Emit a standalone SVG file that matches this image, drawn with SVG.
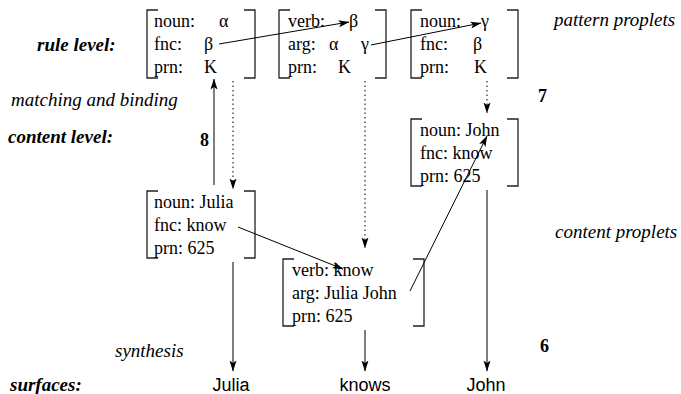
<svg xmlns="http://www.w3.org/2000/svg" width="681" height="394" viewBox="0 0 681 394">
<defs>
<marker id="ah" markerWidth="11" markerHeight="8" refX="10.5" refY="4" orient="auto" markerUnits="userSpaceOnUse">
<path d="M0,0.5 L11,4 L0,7.5 L2.5,4 Z" fill="#000"/>
</marker>
<style>
.br{fill:none;stroke:#222;stroke-width:1.3}
.t{font-family:"Liberation Serif","Times New Roman",serif;font-size:18px;fill:#000}
.bi{font-family:"Liberation Serif","Times New Roman",serif;font-size:19px;font-weight:bold;font-style:italic;fill:#000}
.it{font-family:"Liberation Serif","Times New Roman",serif;font-size:19px;font-style:italic;fill:#000}
.b{font-family:"Liberation Serif","Times New Roman",serif;font-size:18px;font-weight:bold;fill:#000}
.s{font-family:"Liberation Sans",Arial,sans-serif;font-size:18px;fill:#000}
.ln{fill:none;stroke:#000;stroke-width:1}
.dt{fill:none;stroke:#000;stroke-width:1;stroke-dasharray:1.5 3}
</style>
</defs>
<rect width="681" height="394" fill="#fff"/>

<g id="labels">
<text class="bi" x="37" y="51">rule level:</text>
<text class="it" x="11" y="106">matching and binding</text>
<text class="bi" x="8" y="143">content level:</text>
<text class="b" x="200" y="146">8</text>
<text class="b" x="538" y="102">7</text>
<text class="b" x="540" y="352">6</text>
<text class="it" x="554" y="26">pattern proplets</text>
<text class="it" x="555" y="238">content proplets</text>
<text class="it" x="115" y="357">synthesis</text>
<text class="bi" x="10" y="391">surfaces:</text>
</g>

<g id="pattern1">
<path class="br" d="M158,10 H147 V78 H158 M244,10 H255 V78 H244"/>
<text class="t" x="154" y="27">noun:</text><text class="t" x="219" y="27">α</text>
<text class="t" x="154" y="50">fnc:</text><text class="t" x="204" y="50">β</text>
<text class="t" x="154" y="73">prn:</text><text class="t" x="204" y="73">K</text>
</g>

<g id="pattern2">
<path class="br" d="M290,10 H279 V78 H290 M375,10 H386 V78 H375"/>
<text class="t" x="288" y="27">verb:</text><text class="t" x="349" y="27">β</text>
<text class="t" x="288" y="50">arg:</text><text class="t" x="329" y="50">α</text><text class="t" x="361" y="50">γ</text>
<text class="t" x="288" y="73">prn:</text><text class="t" x="338" y="73">K</text>
</g>

<g id="pattern3">
<path class="br" d="M422,10 H411 V78 H422 M507,10 H518 V78 H507"/>
<text class="t" x="420" y="27">noun:</text><text class="t" x="481" y="27">γ</text>
<text class="t" x="420" y="50">fnc:</text><text class="t" x="473" y="50">β</text>
<text class="t" x="420" y="73">prn:</text><text class="t" x="474" y="73">K</text>
</g>

<g id="content-julia">
<path class="br" d="M158,191 H147 V258 H158 M244,191 H255 V258 H244"/>
<text class="t" x="154" y="208">noun: Julia</text>
<text class="t" x="154" y="231">fnc: know</text>
<text class="t" x="154" y="254">prn: 625</text>
</g>

<g id="content-know">
<path class="br" d="M294,259 H283 V326 H294 M413,259 H424 V326 H413"/>
<text class="t" x="292" y="276">verb: know</text>
<text class="t" x="292" y="299">arg: Julia John</text>
<text class="t" x="292" y="322">prn: 625</text>
</g>

<g id="content-john">
<path class="br" d="M422,119 H411 V186 H422 M507,119 H518 V186 H507"/>
<text class="t" x="420" y="136">noun: John</text>
<text class="t" x="420" y="159">fnc: know</text>
<text class="t" x="420" y="182">prn: 625</text>
</g>

<g id="surface-julia"><text class="s" x="231" y="391" text-anchor="middle">Julia</text></g>
<g id="surface-knows"><text class="s" x="365" y="391" text-anchor="middle">knows</text></g>
<g id="surface-john"><text class="s" x="486" y="391" text-anchor="middle">John</text></g>

<g id="connectors">
<line class="ln" x1="219" y1="44" x2="349" y2="22" marker-end="url(#ah)"/>
<line class="ln" x1="371" y1="45" x2="481" y2="23" marker-end="url(#ah)"/>
<line class="dt" x1="233" y1="81" x2="233" y2="189" marker-end="url(#ah)"/>
<line class="dt" x1="365" y1="81" x2="365" y2="248" marker-end="url(#ah)"/>
<line class="dt" x1="487" y1="81" x2="487" y2="113" marker-end="url(#ah)"/>
<line class="ln" x1="214" y1="185" x2="214" y2="79" marker-end="url(#ah)"/>
<line class="ln" x1="238" y1="227" x2="343" y2="269" marker-end="url(#ah)"/>
<line class="ln" x1="410" y1="291" x2="487" y2="136" marker-end="url(#ah)"/>
<line class="ln" x1="233" y1="262" x2="233" y2="371" marker-end="url(#ah)"/>
<line class="ln" x1="365" y1="330" x2="365" y2="371" marker-end="url(#ah)"/>
<line class="ln" x1="487" y1="190" x2="487" y2="371" marker-end="url(#ah)"/>
</g>
</svg>
